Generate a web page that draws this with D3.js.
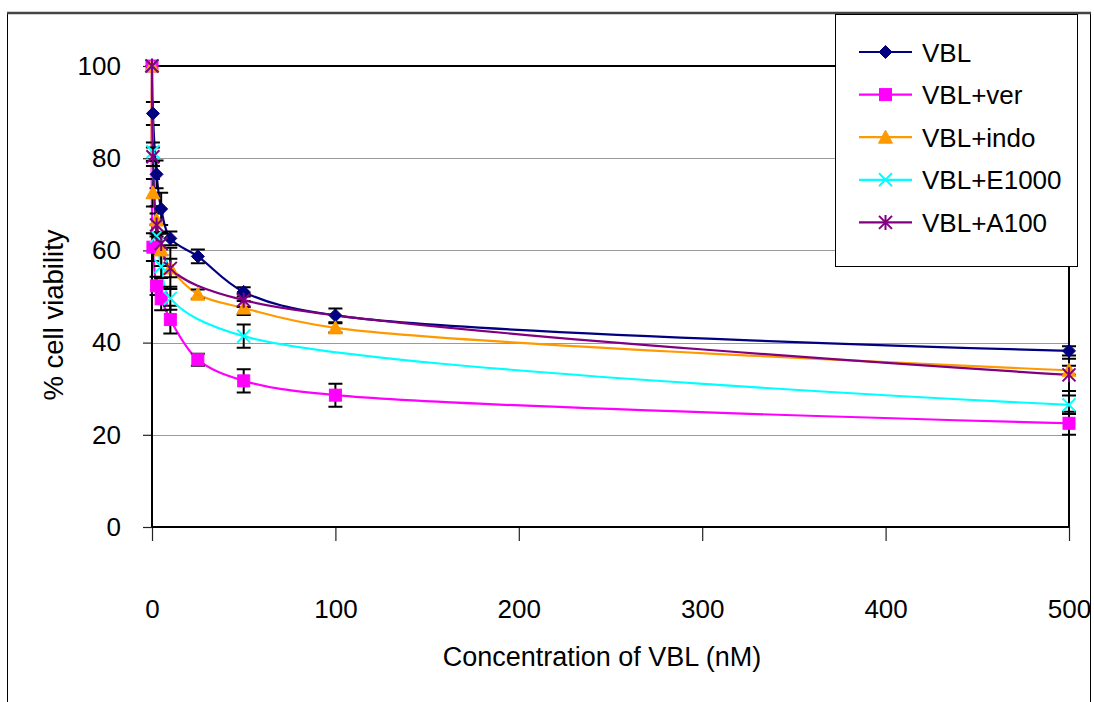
<!DOCTYPE html>
<html>
  <head>
    <meta charset="utf-8">
    <title>% cell viability vs VBL</title>
    <style>
      body { margin: 0; background: #fff; }
      text { font-family: "Liberation Sans", Arial, sans-serif; fill: #000; }
    </style>
  </head>
  <body>
    <div class="chart-area"></div>

    <script src="https://d3js.org/d3.v7.min.js"></script>
    <script>
        // concentrations (nM) and the series (null = no point)
        var concentrations = [0, 0.5, 2.5, 5, 10, 25, 50, 100, 500];
        var seriesNames = ["VBL", "VBL+ver", "VBL+indo", "VBL+E1000", "VBL+A100"];

        var vbl      = [100, 89.7, 76.5, 69.0, 62.6, 58.7, 51.0, 45.9, 38.2];
        var vblVer   = [100, 60.7, 52.3, 49.5, 45.0, 36.3, 31.7, 28.6, 22.5];
        var vblIndo  = [100, 72.5, 66.6, 60.1, 56.2, 50.5, 47.5, 43.2, 34.0];
        var vblE1000 = [100, 81.4, 63.1, 56.5, 49.6, null, 41.4, null, 26.5];
        var vblA100  = [100, 80.3, 65.5, 61.5, 56.1, null, 49.2, null, 33.0];

        // error bar half-heights
        var errVbl      = [0, 2.5, 3.0, 3.5, 1.5, 1.5, 1.0, 1.5, 1.0];
        var errVblVer   = [0, 3.0, 2.0, 2.5, 3.0, 1.3, 2.5, 2.5, 2.5];
        var errVblIndo  = [0, 3.0, 3.0, 3.5, 2.0, 1.0, 1.5, 1.0, 1.0];
        var errVblE1000 = [0, 2.0, 2.5, 2.5, 2.5, null, 2.5, null, 2.0];
        var errVblA100  = [0, 2.0, 2.5, 2.5, 4.5, null, 1.5, null, 3.5];

        var yTicks = [0, 20, 40, 60, 80, 100];
        var xTicks = [0, 100, 200, 300, 400, 500];

        var colors = ["#000080", "#FF00FF", "#FF9900", "#00FFFF", "#800080"];
        var shapes = ["diamond", "square", "triangle", "cross", "star"];

        var allValues = [vbl, vblVer, vblIndo, vblE1000, vblA100];
        var allErrors = [errVbl, errVblVer, errVblIndo, errVblE1000, errVblA100];

        var series = seriesNames.map(function(name, k) {
            return {
                name: name,
                color: colors[k],
                shape: shapes[k],
                points: concentrations.map(function(c, i) {
                    return { x: c, y: allValues[k][i], e: allErrors[k][i] };
                }).filter(function(p) { return p.y !== null; })
            };
        });

        var W = 1094, H = 702;
        var svg = d3.select(".chart-area")
            .append("svg")
                .attr("width", W)
                .attr("height", H);

        // outer chart frame
        svg.append("line").attr("x1", 7.5).attr("x2", 7.5).attr("y1", 13).attr("y2", H)
            .attr("stroke", "#000").attr("stroke-width", 1);
        svg.append("line").attr("x1", 1090.5).attr("x2", 1090.5).attr("y1", 13).attr("y2", H)
            .attr("stroke", "#000").attr("stroke-width", 1);
        svg.append("line").attr("x1", 7).attr("x2", 1091).attr("y1", 13).attr("y2", 13)
            .attr("stroke", "#444").attr("stroke-width", 2.5);

        var x = d3.scaleLinear().domain([0, 500]).range([152, 1069]);
        var y = d3.scaleLinear().domain([0, 100]).range([527, 66]);

        // gridlines
        svg.append("g")
            .selectAll("line")
            .data(yTicks.filter(function(t) { return t > 0 && t < 100; }))
            .enter().append("line")
                .attr("x1", x(0)).attr("x2", x(500))
                .attr("y1", function(d) { return Math.round(y(d)) + 0.5; })
                .attr("y2", function(d) { return Math.round(y(d)) + 0.5; })
                .attr("stroke", "#9a9a9a").attr("stroke-width", 1);

        // plot area border top / right
        svg.append("line").attr("x1", x(0)).attr("x2", x(500)).attr("y1", y(100)).attr("y2", y(100))
            .attr("stroke", "#000").attr("stroke-width", 2);
        svg.append("line").attr("x1", x(500)).attr("x2", x(500)).attr("y1", y(100)).attr("y2", y(0))
            .attr("stroke", "#000").attr("stroke-width", 2);

        // axes
        var yAxis = svg.append("g")
            .attr("transform", "translate(" + x(0) + ",0)")
            .call(d3.axisLeft(y).tickValues(yTicks).tickSize(9).tickPadding(22));
        var xAxis = svg.append("g")
            .attr("transform", "translate(0," + y(0) + ")")
            .call(d3.axisBottom(x).tickValues(xTicks).tickSize(14).tickPadding(59));
        [xAxis, yAxis].forEach(function(a) {
            a.select(".domain").remove();
            a.selectAll(".tick line").attr("stroke", "#222").attr("stroke-width", 1.2);
            a.selectAll("text").style("font-size", "26px")
                .style("font-family", '"Liberation Sans", Arial, sans-serif').attr("fill", "#000");
        });

        svg.append("line").attr("x1", x(0)).attr("x2", x(500)).attr("y1", y(0)).attr("y2", y(0))
            .attr("stroke", "#000").attr("stroke-width", 2);
        svg.append("line").attr("x1", x(0)).attr("x2", x(0)).attr("y1", y(100)).attr("y2", y(0))
            .attr("stroke", "#000").attr("stroke-width", 2);

        // axis titles
        svg.append("text")
            .attr("x", 602).attr("y", 666)
            .attr("text-anchor", "middle")
            .style("font-size", "27px")
            .text("Concentration of VBL (nM)");
        svg.append("text")
            .attr("transform", "translate(63,315) rotate(-90)")
            .attr("text-anchor", "middle")
            .style("font-size", "27.5px")
            .text("% cell viability");

        // marker drawing
        function drawMarker(g, shape, color, cx, cy) {
            var s = 6.5;
            if (shape === "diamond") {
                g.append("path")
                    .attr("d", "M" + cx + "," + (cy - s) + "L" + (cx + s) + "," + cy + "L" + cx + "," + (cy + s) + "L" + (cx - s) + "," + cy + "Z")
                    .attr("fill", color).attr("stroke", color).attr("stroke-width", 1);
            } else if (shape === "square") {
                g.append("rect")
                    .attr("x", cx - 6).attr("y", cy - 6).attr("width", 12).attr("height", 12)
                    .attr("fill", color).attr("stroke", color).attr("stroke-width", 1);
            } else if (shape === "triangle") {
                g.append("path")
                    .attr("d", "M" + cx + "," + (cy - 7) + "L" + (cx + 7) + "," + (cy + 6) + "L" + (cx - 7) + "," + (cy + 6) + "Z")
                    .attr("fill", color).attr("stroke", color).attr("stroke-width", 1);
            } else {
                var d = "M" + (cx - s) + "," + (cy - s) + "L" + (cx + s) + "," + (cy + s) +
                        "M" + (cx - s) + "," + (cy + s) + "L" + (cx + s) + "," + (cy - s);
                if (shape === "star") d += "M" + cx + "," + (cy - s - 1) + "L" + cx + "," + (cy + s + 1);
                g.append("path").attr("d", d)
                    .attr("fill", "none").attr("stroke", color).attr("stroke-width", 2);
            }
        }

        var line = d3.line()
            .x(function(d) { return x(d.x); })
            .y(function(d) { return y(d.y); })
            .curve(d3.curveCatmullRom.alpha(0.5));

        series.forEach(function(s) {
            var g = svg.append("g");
            g.append("path")
                .datum(s.points)
                .attr("d", line)
                .attr("fill", "none")
                .attr("stroke", s.color)
                .attr("stroke-width", 2.2);

            // error bars
            g.selectAll("path.err")
                .data(s.points.filter(function(p) { return p.e > 0; }))
                .enter().append("path")
                    .attr("class", "err")
                    .attr("d", function(p) {
                        var px = x(p.x), t = y(p.y + p.e), b = y(p.y - p.e);
                        return "M" + px + "," + t + "L" + px + "," + b +
                               "M" + (px - 7) + "," + t + "L" + (px + 7) + "," + t +
                               "M" + (px - 7) + "," + b + "L" + (px + 7) + "," + b;
                    })
                    .attr("fill", "none").attr("stroke", "#000").attr("stroke-width", 2);
        });

        series.forEach(function(s) {
            var g = svg.append("g");
            s.points.forEach(function(p) {
                drawMarker(g, s.shape, s.color, x(p.x), y(p.y));
            });
        });

        // legend
        var legend = svg.append("g");
        legend.append("rect")
            .attr("x", 835.5).attr("y", 14.5).attr("width", 242).attr("height", 252)
            .attr("fill", "#fff").attr("stroke", "#000").attr("stroke-width", 1);
        series.forEach(function(s, k) {
            var cy = 52 + k * 42.6;
            legend.append("line")
                .attr("x1", 859).attr("x2", 912).attr("y1", cy).attr("y2", cy)
                .attr("stroke", s.color).attr("stroke-width", 2.2);
            drawMarker(legend, s.shape, s.color, 885.5, cy);
            legend.append("text")
                .attr("x", 922).attr("y", cy + 9.5)
                .style("font-size", "26px")
                .text(s.name);
        });
    </script>
  </body>
</html>
